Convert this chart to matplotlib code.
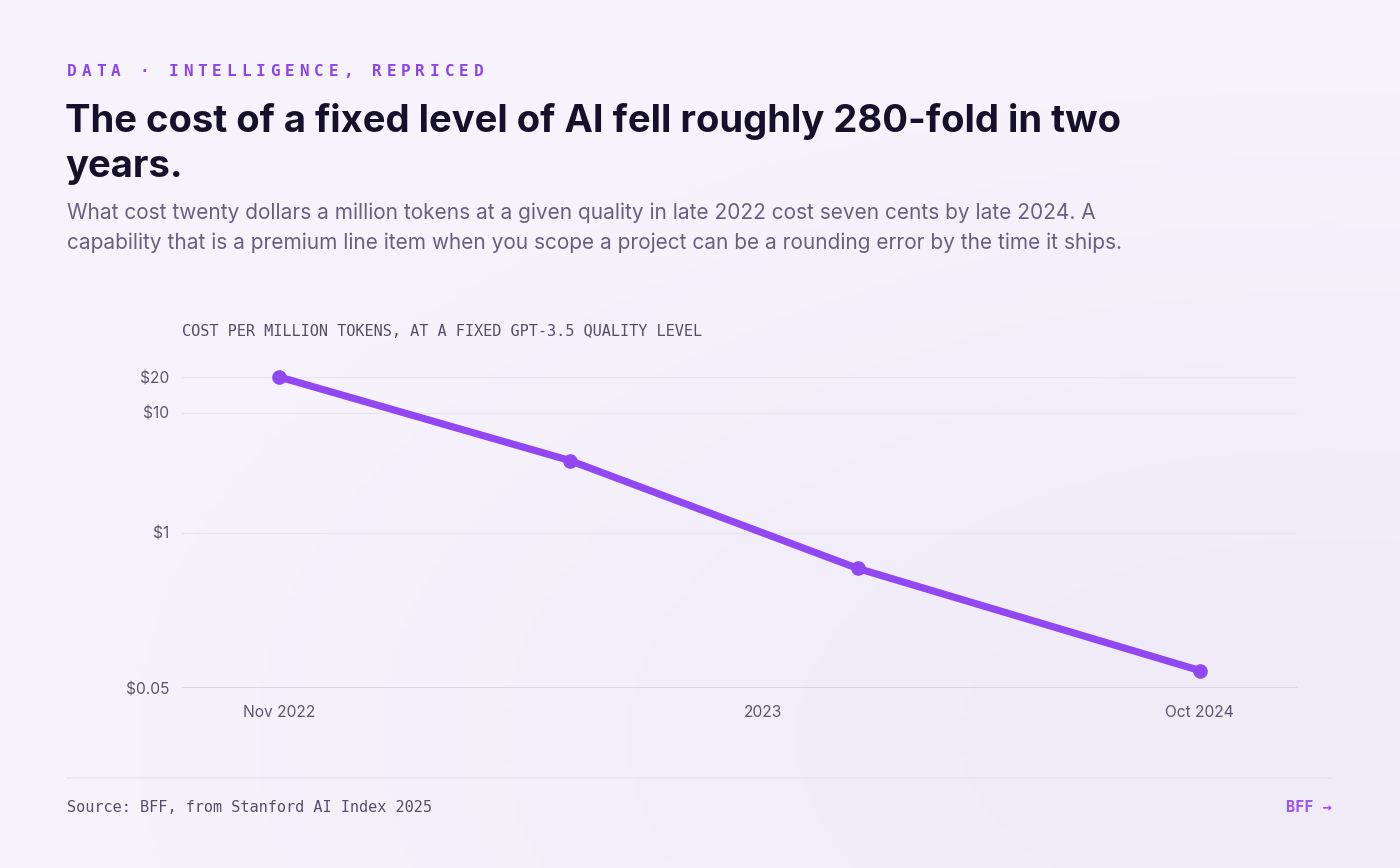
import matplotlib
matplotlib.use("Agg")
import matplotlib.pyplot as plt
import numpy as np
import pandas as pd

# data
dates = pd.to_datetime(["2022-11-01", "2023-06-10", "2024-01-15", "2024-10-01"])
cost = [20, 4, 0.5, 0.07]
ytick_vals = [0.05, 1, 10, 20]
ytick_labels = ["$0.05", "$1", "$10", "$20"]
xtick_dates = pd.to_datetime(["2022-11-01", "2023-11-04", "2024-10-01"])
xtick_labels = ["Nov 2022", "2023", "Oct 2024"]

W, H = 1400, 868
BG = "#f6f3fd"
PURPLE = "#9148f2"
INK = "#16112b"
GREY = "#676180"
MONO = "DejaVu Sans Mono"

fig = plt.figure(figsize=(W / 100, H / 100), dpi=100, facecolor=BG)


def fx(x):
    return x / W


def fy(y):
    return 1 - y / H


# faint lavender tint towards the lower right
bg = fig.add_axes([0, 0, 1, 1], zorder=-5)
gx, gy = np.meshgrid(np.linspace(0, 1, 200), np.linspace(0, 1, 200))
tint = np.clip(1.2 - np.hypot((gx - 0.95) * 1.4, (gy - 0.85) * 1.6), 0, 1)
bg.imshow(tint, cmap=matplotlib.colors.LinearSegmentedColormap.from_list(
    "t", ["#f6f3fd", "#efebf7"]), aspect="auto", extent=[0, 1, 0, 1], vmin=0, vmax=1)
bg.axis("off")


def spaced(x, y, s, size, color, weight="normal", track=0.0):
    # monospace text with extra letter spacing, drawn char by char
    adv = size * 0.602 * 100 / 72 + track
    for i, ch in enumerate(s):
        fig.text(fx(x + i * adv), fy(y), ch, fontsize=size, color=color,
                 family=MONO, weight=weight, va="center", ha="left")


spaced(67, 72, "DATA · INTELLIGENCE, REPRICED", 11.5, "#8a44f0", "bold", 4.9)

fig.text(fx(65), fy(121), "The cost of a fixed level of AI fell roughly 280-fold in two",
         fontsize=27.5, family="Inter", weight="bold", color=INK, va="center")
fig.text(fx(65), fy(167), "years.", fontsize=27.5, family="Inter", weight="bold",
         color=INK, va="center")
fig.text(fx(67), fy(213),
         "What cost twenty dollars a million tokens at a given quality in late 2022 cost seven cents by late 2024. A",
         fontsize=15, family="Inter", color=GREY, va="center")
fig.text(fx(67), fy(243),
         "capability that is a premium line item when you scope a project can be a rounding error by the time it ships.",
         fontsize=15, family="Inter", color=GREY, va="center")

fig.text(fx(182), fy(331), "COST PER MILLION TOKENS, AT A FIXED GPT-3.5 QUALITY LEVEL",
         fontsize=11, family=MONO, color="#544e68", va="center")

ax = fig.add_axes([fx(182), fy(688), fx(1297 - 182), (688 - 377) / H])
ax.set_facecolor("none")
ax.plot(dates, cost, color=PURPLE, lw=5.2, marker="o", ms=9.5,
        solid_capstyle="round", clip_on=False, zorder=3)
ax.set_yscale("log")
ax.set_ylim(0.05, 20)
pad = pd.Timedelta(days=74)
ax.set_xlim(dates[0] - pad, dates[-1] + pad)

ax.yaxis.set_major_locator(matplotlib.ticker.FixedLocator(ytick_vals))
ax.yaxis.set_minor_locator(matplotlib.ticker.NullLocator())
ax.set_yticklabels(ytick_labels)
ax.set_xticks(xtick_dates)
ax.set_xticklabels(xtick_labels)
ax.tick_params(length=0, labelsize=11.2, labelcolor="#5b5570")
ax.tick_params(axis="y", pad=9)
ax.tick_params(axis="x", pad=12)
for lab in ax.get_xticklabels() + ax.get_yticklabels():
    lab.set_family("Inter")

for v in ytick_vals[1:]:
    ax.axhline(v, color="#e8e4f0", lw=1, zorder=1)
ax.axhline(0.05, color="#d6d1df", lw=1.8, zorder=1)
for s in ax.spines.values():
    s.set_visible(False)

# footer
fig.add_artist(plt.Line2D([fx(67), fx(1332)], [fy(778), fy(778)], color="#e8e4f0", lw=1.2))
fig.text(fx(67), fy(808), "Source: BFF, from Stanford AI Index 2025", fontsize=11,
         family=MONO, color="#544e68", va="center")
fig.text(fx(1332), fy(808), "BFF →", fontsize=11, family=MONO, weight="bold",
         color="#9a55f5", va="center", ha="right")

fig.savefig("out.png", dpi=100, facecolor=BG)
